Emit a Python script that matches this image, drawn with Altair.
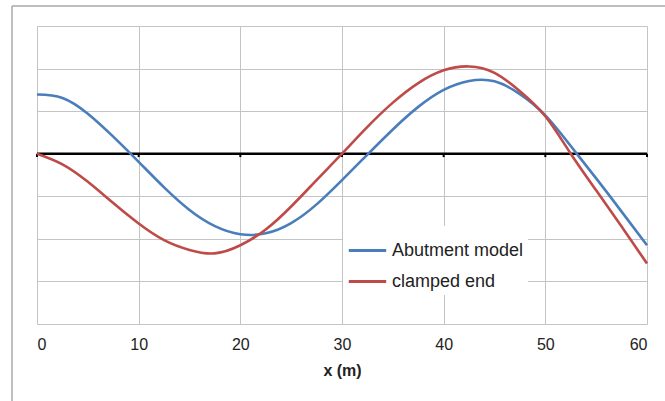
import altair as alt
import pandas as pd

x_vals = [0, 2.5, 5, 7.5, 10, 12.5, 15, 17.5, 20, 22.5, 25, 27.5, 30, 32.5, 35, 37.5,
          40, 42.5, 45, 47.5, 50, 52.5, 55, 57.5, 60]

# Abutment model (blue)
blue_y = [1.39, 1.31, 0.94, 0.40, -0.19, -0.79, -1.32, -1.70, -1.89, -1.87, -1.63, -1.19,
          -0.62, -0.02, 0.57, 1.10, 1.50, 1.71, 1.70, 1.40, 0.90, 0.18, -0.58, -1.36, -2.15]

# clamped end (red)
red_y = [0.0, -0.25, -0.66, -1.16, -1.64, -2.03, -2.26, -2.34, -2.15, -1.78, -1.24, -0.62,
         0.0, 0.63, 1.20, 1.66, 1.96, 2.05, 1.90, 1.47, 0.88, 0.0, -0.86, -1.71, -2.58]

series = ["Abutment model", "clamped end"]
colors = ["#4a7ebb", "#be4b48"]
x_ticks = [0, 10, 20, 30, 40, 50, 60]
y_grid = [-4, -3, -2, -1, 0, 1, 2, 3]

df = pd.concat([
    pd.DataFrame({"x": x_vals, "y": blue_y, "series": series[0]}),
    pd.DataFrame({"x": x_vals, "y": red_y, "series": series[1]}),
])

FONT = "Liberation Sans"

xscale = alt.Scale(domain=[0, 60], nice=False)
yscale = alt.Scale(domain=[-4, 3], nice=False)

lines = alt.Chart(df).mark_line(strokeWidth=2.6, interpolate="natural").encode(
    x=alt.X("x:Q", scale=xscale,
            axis=alt.Axis(values=x_ticks, title="x (m)", grid=True, gridColor="#c4c4c4",
                          gridWidth=1, ticks=False, domain=False, labelPadding=12,
                          labelFont=FONT, labelFontSize=16, labelColor="#222",
                          titleFont=FONT, titleFontSize=16, titleFontWeight="bold",
                          titleColor="#222", titlePadding=10)),
    y=alt.Y("y:Q", scale=yscale,
            axis=alt.Axis(values=y_grid, labels=False, ticks=False, domain=False,
                          grid=True, gridColor="#c4c4c4", gridWidth=1, title=None)),
    color=alt.Color("series:N", scale=alt.Scale(domain=series, range=colors),
                    legend=alt.Legend(title=None, orient="none", legendX=306, legendY=200,
                                      fillColor="white", padding=4, symbolType="stroke",
                                      symbolSize=1400, symbolStrokeWidth=3,
                                      labelFont=FONT, labelFontSize=18, labelColor="#222",
                                      labelOffset=4, rowPadding=1)),
    order=alt.Order("series:N"),
)

zero_df = pd.DataFrame({"x0": [0], "x1": [60], "y": [0]})
zero = alt.Chart(zero_df).mark_rule(color="black", strokeWidth=2.6).encode(
    x=alt.X("x0:Q", scale=xscale), x2="x1:Q", y=alt.Y("y:Q", scale=yscale))

tick_df = pd.DataFrame({"x": x_ticks, "y0": [0] * len(x_ticks), "y1": [-0.08] * len(x_ticks)})
ticks = alt.Chart(tick_df).mark_rule(color="black", strokeWidth=2).encode(
    x=alt.X("x:Q", scale=xscale), y=alt.Y("y0:Q", scale=yscale), y2="y1:Q")

frame_df = pd.DataFrame({"a": [0]})
frame_v = alt.Chart(frame_df).mark_rule(color="#a8a8a8", strokeWidth=1.5).encode(
    x=alt.value(-25), y=alt.value(-20), y2=alt.value(380))
frame_h = alt.Chart(frame_df).mark_rule(color="#a8a8a8", strokeWidth=1.5).encode(
    x=alt.value(-25), x2=alt.value(640), y=alt.value(-20))

chart = alt.layer(frame_v, frame_h, zero, ticks, lines).properties(
    width=610, height=298,
    autosize=alt.AutoSizeParams(type="none"),
    padding={"left": 37, "top": 26, "right": 18, "bottom": 77},
    background="white",
).configure_view(stroke=None)

chart.save("out.html", embed_options={"renderer": "svg", "actions": False})
